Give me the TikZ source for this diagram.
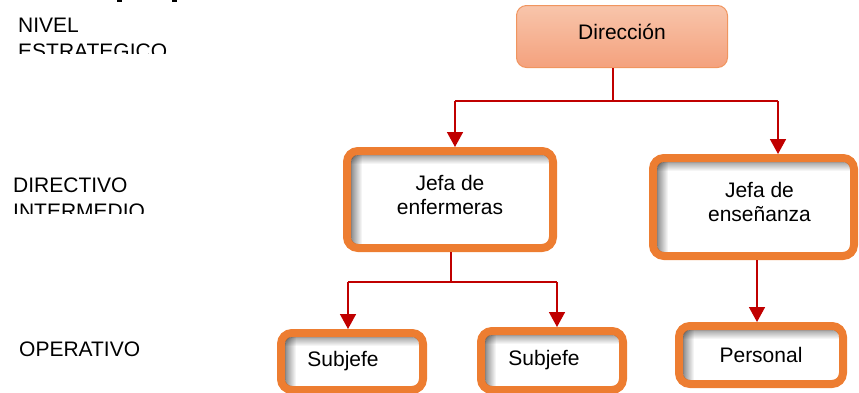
\documentclass[tikz,border=0pt]{standalone}
\usepackage{fontspec}
\setmainfont{Liberation Sans}
\usetikzlibrary{arrows.meta,calc,fadings}

\definecolor{boxorange}{HTML}{ED7D31}
\definecolor{linkred}{HTML}{C00000}
\definecolor{dirtop}{HTML}{F8C5AB}
\definecolor{dirbottom}{HTML}{F4A17D}
\definecolor{dirline}{HTML}{F0955F}

\newcommand\boxfont{\fontsize{21bp}{24bp}\selectfont}
\newcommand\lowerpad{\rule[-10bp]{0pt}{10bp}}

% soft shadow along the inner top and left edges of a framed box
\newcommand\insetshade[1]{%
  \begin{scope}
    \clip[rounded corners=7bp] ($(#1.north west)+(8,8)$) rectangle ($(#1.south east)+(-8,-8)$);
    \fill[black, opacity=0.45, path fading=east]
      ($(#1.north west)+(8,8)$) rectangle ($(#1.south west)+(19,-8)$);
    \fill[black, opacity=0.35, path fading=south]
      ($(#1.north west)+(8,8)$) rectangle ($(#1.north east)+(-8,17)$);
  \end{scope}}

\tikzset{
  unitbox/.style={draw=boxorange, line width=8bp, rounded corners=11bp, fill=white,
    align=center, inner sep=0pt, font=\boxfont},
  topbox/.style={draw=dirline, line width=1bp, rounded corners=10bp,
    top color=dirtop, bottom color=dirbottom, inner sep=0pt, font=\boxfont},
  link/.style={draw=linkred, line width=1.6bp},
  linkarrow/.style={link, -{Triangle[width=16bp,length=15bp]}},
  levellabel/.style={anchor=base west, inner sep=0pt, font=\boxfont},
}

\begin{document}
\begin{tikzpicture}[x=1bp, y=-1bp]
\useasboundingbox (0,0) rectangle (859,392);

% level labels on the left
\begin{scope}
  \clip (0,0) rectangle (300,53);
  \node[levellabel] (lvlA) at (18,32) {NIVEL};
  \node[levellabel] (lvlB) at (18,58) {ESTRATEGICO};
\end{scope}
\begin{scope}
  \clip (0,150) rectangle (300,213);
  \node[levellabel] (lvlC) at (13,192) {DIRECTIVO};
  \node[levellabel] (lvlD) at (13,218) {INTERMEDIO};
\end{scope}
\node[levellabel] (lvlE) at (19,356) {OPERATIVO};

% stray marks at the upper edge
\fill[black] (117,0) rectangle (122,1.5);
\fill[black] (172,0) rectangle (177,1.5);

% boxes
\node[topbox, minimum width=211bp, minimum height=62bp] (dir) at (622,36.5) {Dirección\lowerpad};
\node[unitbox, minimum width=206bp, minimum height=97bp] (jen) at (450,199.5) {Jefa de\\enfermeras\lowerpad};
\node[unitbox, minimum width=201bp, minimum height=98bp] (jes) at (753.5,207) {\hspace*{12bp}Jefa de\\\hspace*{12bp}enseñanza\lowerpad};
\node[unitbox, minimum width=142bp, minimum height=57bp] (sj1) at (352,361.5) {\hspace*{-18bp}Subjefe};
\node[unitbox, minimum width=142bp, minimum height=59bp] (sj2) at (552,360.5) {\hspace*{-16bp}Subjefe};
\node[unitbox, minimum width=164bp, minimum height=58bp] (per) at (761,355) {Personal};

\insetshade{jen}
\insetshade{jes}
\insetshade{sj1}
\insetshade{sj2}
\insetshade{per}

% connectors
\coordinate (hubA) at (613,101);
\coordinate (busAL) at (455,101);
\coordinate (busAR) at (778,101);
\draw[link] (hubA |- dir.south) -- (hubA);
\draw[link] (busAL) -- (busAR);
\draw[linkarrow] (busAL) -- (busAL |- jen.north);
\draw[linkarrow] (busAR) -- (busAR |- jes.north);

\coordinate (hubB) at (451,282);
\coordinate (busBL) at (348,282);
\coordinate (busBR) at (557,282);
\draw[link] (hubB |- jen.south) -- (hubB);
\draw[link] (busBL) -- (busBR);
\draw[linkarrow] (busBL) -- (busBL |- sj1.north);
\draw[linkarrow] (busBR) -- (busBR |- sj2.north);

\coordinate (dropC) at (757,300);
\draw[linkarrow] (dropC |- jes.south) -- (dropC |- per.north);
\end{tikzpicture}
\end{document}
